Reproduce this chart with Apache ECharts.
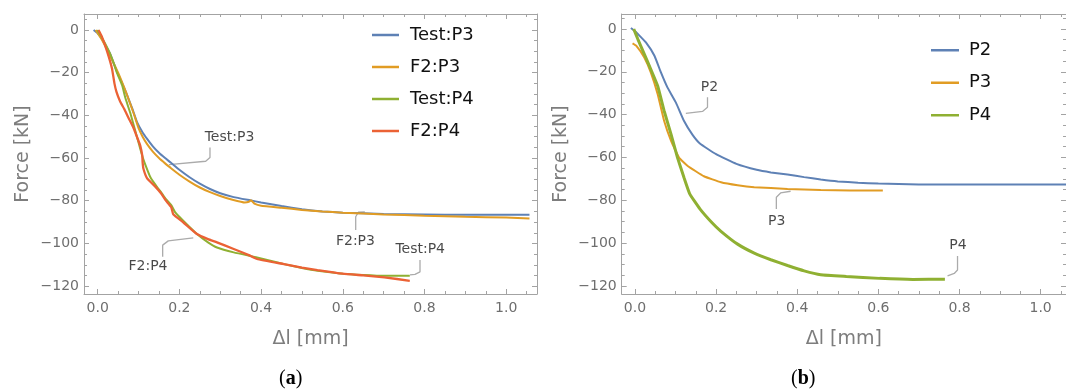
<!DOCTYPE html>
<html>
<head>
<meta charset="utf-8">
<script src="https://cdn.jsdelivr.net/npm/echarts@6/dist/echarts.min.js"></script>
<style>html,body{margin:0;padding:0;background:#fff}#c{width:1066px;height:390px}</style>
</head>
<body>
<div id="c"></div>
<script>
// ---------- data (Δl [mm], Force [kN]) ----------
const leftTestP3 = [[-0.01,0],[0,-1.5],[0.01,-4],[0.02,-7.5],[0.03,-11],[0.047,-19.5],[0.06,-25],[0.072,-30.5],[0.085,-37],[0.096,-43],[0.11,-48],[0.121,-51],[0.135,-54.5],[0.15,-57.5],[0.165,-60],[0.178,-62],[0.2,-65.5],[0.225,-69],[0.25,-72],[0.275,-74.5],[0.3,-76.5],[0.333,-78.3],[0.373,-79.8],[0.4,-80.8],[0.45,-82.5],[0.5,-84],[0.55,-85],[0.6,-85.6],[0.7,-86.2],[0.8,-86.4],[0.9,-86.6],[1.0,-86.6],[1.057,-86.6]];
const leftF2P3 = [[-0.005,0],[0.01,-4.5],[0.03,-12],[0.05,-20],[0.07,-29.5],[0.088,-39],[0.1,-46],[0.11,-50],[0.121,-53.5],[0.135,-57],[0.15,-60],[0.165,-62.5],[0.178,-64.5],[0.2,-67.8],[0.225,-71],[0.25,-73.8],[0.275,-76],[0.3,-77.8],[0.33,-79.5],[0.36,-80.8],[0.37,-80.5],[0.375,-79.8],[0.385,-81.5],[0.4,-82.3],[0.45,-83.3],[0.5,-84.3],[0.55,-85],[0.6,-85.6],[0.7,-86.4],[0.8,-87],[0.9,-87.5],[1.0,-87.9],[1.057,-88.3]];
const leftTestP4 = [[-0.001,0],[0.01,-3.5],[0.02,-7],[0.03,-11],[0.04,-16],[0.047,-20],[0.06,-26],[0.068,-32],[0.08,-39],[0.088,-44.5],[0.096,-50],[0.104,-55.5],[0.11,-59.5],[0.117,-63.3],[0.129,-69],[0.145,-73.5],[0.155,-76],[0.166,-79],[0.18,-82],[0.19,-85.5],[0.21,-89.5],[0.243,-95.6],[0.27,-99.5],[0.292,-101.9],[0.333,-104.2],[0.39,-106.6],[0.42,-108],[0.456,-109.7],[0.5,-111.5],[0.538,-112.8],[0.6,-114.2],[0.65,-114.8],[0.702,-115.2],[0.764,-115.2]];
const leftF2P4 = [[0.002,0],[0.01,-3],[0.023,-10],[0.035,-18],[0.041,-25],[0.046,-29],[0.055,-33.5],[0.065,-37],[0.075,-41],[0.088,-46],[0.1,-52],[0.104,-54],[0.109,-58.6],[0.11,-62],[0.112,-65],[0.121,-69.5],[0.141,-73.4],[0.155,-76.5],[0.166,-79.7],[0.18,-83],[0.185,-86.3],[0.21,-90.2],[0.243,-95.6],[0.27,-98],[0.292,-99.5],[0.333,-102.6],[0.37,-105.5],[0.39,-107.3],[0.456,-109.7],[0.5,-111.3],[0.538,-112.5],[0.6,-114.2],[0.65,-115],[0.702,-115.9],[0.764,-117.5]];

const rightP2 = [[-0.01,0.5],[0,-1],[0.007,-2.3],[0.027,-6.3],[0.048,-12.5],[0.064,-20.3],[0.08,-27.3],[0.101,-34.4],[0.121,-43],[0.142,-49.5],[0.16,-53.5],[0.2,-58.5],[0.25,-63],[0.3,-65.8],[0.335,-67],[0.376,-68],[0.417,-69.2],[0.458,-70.3],[0.5,-71.2],[0.55,-71.8],[0.6,-72.2],[0.7,-72.6],[0.8,-72.7],[0.9,-72.7],[1.0,-72.7],[1.065,-72.7]];
const rightP3 = [[-0.006,-6.7],[0.003,-7.8],[0.023,-13.3],[0.039,-20.3],[0.056,-30.5],[0.072,-43],[0.089,-52.3],[0.109,-60.2],[0.13,-64],[0.17,-68.8],[0.212,-71.6],[0.253,-73],[0.294,-73.9],[0.376,-74.7],[0.458,-75.2],[0.53,-75.4],[0.611,-75.4]];
const rightP4 = [[-0.003,0],[0.007,-4.7],[0.023,-11.7],[0.039,-18.8],[0.056,-26.6],[0.072,-38.3],[0.089,-49.2],[0.105,-60.2],[0.121,-69.5],[0.135,-77],[0.16,-84],[0.19,-90.5],[0.212,-94.5],[0.253,-100.5],[0.294,-104.7],[0.335,-107.8],[0.376,-110.5],[0.417,-113],[0.458,-114.8],[0.521,-115.6],[0.603,-116.5],[0.685,-117],[0.764,-116.9]];

// ticks
const xMajor = [0, 0.2, 0.4, 0.6, 0.8, 1.0];
const xTickLabels = ['0.0', '0.2', '0.4', '0.6', '0.8', '1.0'];
const xMinor = [0.05,0.1,0.15,0.25,0.3,0.35,0.45,0.5,0.55,0.65,0.7,0.75,0.85,0.9,0.95,1.05];
const yMajor = [-120, -100, -80, -60, -40, -20, 0];
const yTickLabels = ['\u2212120', '\u2212100', '\u221280', '\u221260', '\u221240', '\u221220', '0'];
const yMinor = [-115,-110,-105,-95,-90,-85,-75,-70,-65,-55,-50,-45,-35,-30,-25,-15,-10,-5,5];

const leftNames = ['Test:P3', 'F2:P3', 'Test:P4', 'F2:P4'];
const rightNames = ['P2', 'P3', 'P4'];

// callouts: text anchor and leader path in data coordinates
const leftCallouts = [
  {text:'Test:P3', at:[0.3226,-50.2], path:[[0.2749,-55],[0.2749,-59.7],[0.2644,-61.5],[0.1745,-63.1]]},
  {text:'F2:P3', at:[0.631,-98.8], path:[[0.6316,-93.7],[0.6316,-87.5],[0.638,-85.4],[0.654,-85.2]]},
  {text:'Test:P4', at:[0.7895,-102.6], path:[[0.789,-107.8],[0.789,-113.3],[0.7767,-114.5],[0.7645,-114.7]]},
  {text:'F2:P4', at:[0.1231,-110.6], path:[[0.1591,-106.3],[0.1591,-100.8],[0.1728,-98.8],[0.234,-97.4]]}
];
const rightCallouts = [
  {text:'P2', at:[0.1837,-27.1], path:[[0.1788,-31.9],[0.1788,-36.6],[0.1665,-38.5],[0.1254,-39.4]]},
  {text:'P3', at:[0.3492,-89.9], path:[[0.3485,-84.1],[0.3485,-78.6],[0.359,-76.6],[0.3837,-75.8]]},
  {text:'P4', at:[0.796,-101.3], path:[[0.7951,-106.1],[0.7951,-112.6],[0.787,-114.2],[0.7705,-115.3]]}
];

// ---------- styles ----------
const COLORS = {blue:'#5e81b5', orange:'#e19c24', green:'#8fb032', red:'#eb6235'};
const FRAME = '#a3a3a3';
const TICKTXT = '#6e6e6e';
const TITLETXT = '#7d7d7d';
const FONT = 'DejaVu Sans';

function fmt(vals, labels) {
  return function (v) {
    for (let i = 0; i < vals.length; i++) if (Math.abs(vals[i] - v) < 1e-9) return labels[i];
    return '';
  };
}

function axesFor(dim, gi, min, max, major, minor, labels, name, nameGap) {
  const posMain = dim === 'x' ? 'bottom' : 'left';
  const posOpp = dim === 'x' ? 'top' : 'right';
  const base = {gridIndex: gi, type: 'value', min: min, max: max, splitLine: {show: false}, silent: true};
  const mk = (pos, vals, len, showLine, showLabel) => Object.assign({}, base, {
    position: pos,
    axisLine: {show: showLine, onZero: false, lineStyle: {color: FRAME, width: 1}},
    axisTick: {show: true, inside: true, length: len, customValues: vals, lineStyle: {color: FRAME, width: 1}},
    axisLabel: showLabel ? {show: true, customValues: major, formatter: fmt(major, labels), color: TICKTXT,
      fontSize: 14, fontFamily: FONT, margin: dim === 'x' ? 7 : 5} : {show: false}
  });
  const main = mk(posMain, major, 5, true, true);
  main.name = name;
  main.nameLocation = 'middle';
  main.nameGap = nameGap;
  main.nameTextStyle = {fontSize: 19, color: TITLETXT, fontFamily: FONT};
  return [main, mk(posMain, minor, 3, false, false), mk(posOpp, major, 5, true, false), mk(posOpp, minor, 3, false, false)];
}

const xAxis = [].concat(
  axesFor('x', 0, -0.0335, 1.0754, xMajor, xMinor, xTickLabels, '\u0394l [mm]', 36),
  axesFor('x', 1, -0.0327, 1.0625, xMajor, xMinor, xTickLabels, '\u0394l [mm]', 36)
);
const yAxis = [].concat(
  axesFor('y', 0, -123.7, 7.5, yMajor, yMinor, yTickLabels, 'Force [kN]', 51),
  axesFor('y', 1, -123.8, 7.0, yMajor, yMinor, yTickLabels, 'Force [kN]', 51)
);

function lineSeries(name, data, color, width, ax) {
  return {name: name, type: 'line', data: data, xAxisIndex: ax, yAxisIndex: ax, showSymbol: false, symbol: 'none',
    smooth: 0.12, lineStyle: {color: color, width: width}, itemStyle: {color: color}, z: 3, silent: true};
}
function calloutSeries(list, ax) {
  const out = [];
  list.forEach(c => {
    out.push({type: 'line', data: c.path, xAxisIndex: ax, yAxisIndex: ax, showSymbol: false, symbol: 'none',
      lineStyle: {color: '#ababab', width: 1.3}, silent: true, z: 2});
    out.push({type: 'scatter', data: [c.at], xAxisIndex: ax, yAxisIndex: ax, symbolSize: 0, silent: true, z: 4,
      label: {show: true, position: 'inside', formatter: c.text, color: '#1a1a1a', fontSize: 14, fontFamily: FONT}});
  });
  return out;
}

const series = [
  lineSeries(leftNames[0], leftTestP3, COLORS.blue, 2, 0),
  lineSeries(leftNames[1], leftF2P3, COLORS.orange, 2, 0),
  lineSeries(leftNames[2], leftTestP4, COLORS.green, 2, 0),
  lineSeries(leftNames[3], leftF2P4, COLORS.red, 2.3, 0),
  lineSeries(rightNames[0], rightP2, COLORS.blue, 2, 4),
  lineSeries(rightNames[1], rightP3, COLORS.orange, 2, 4),
  lineSeries(rightNames[2], rightP4, COLORS.green, 3, 4)
].concat(calloutSeries(leftCallouts, 0), calloutSeries(rightCallouts, 4));

const legendBase = {orient: 'vertical', icon: 'rect', itemHeight: 2.5, itemGap: 0, selectedMode: false, padding: 0,
  textStyle: {fontSize: 18, color: '#111', fontFamily: FONT, lineHeight: 32}};

const capRich = {p: {fontFamily: 'Liberation Serif', fontSize: 20, fill: '#000'}, b: {fontFamily: 'Liberation Serif', fontSize: 20, fontWeight: 'bold', fill: '#000'}};

const option = {
  animation: false,
  backgroundColor: '#ffffff',
  grid: [
    {left: 84, top: 14, width: 453, height: 280},
    {left: 621.7, top: 14, width: 445.3, height: 280}
  ],
  xAxis: xAxis,
  yAxis: yAxis,
  legend: [
    Object.assign({}, legendBase, {data: leftNames, left: 372, top: 19, itemWidth: 27,
      textStyle: Object.assign({}, legendBase.textStyle, {padding: [0, 0, 0, 6]})}),
    Object.assign({}, legendBase, {data: rightNames, left: 931, top: 34, itemWidth: 28,
      textStyle: Object.assign({}, legendBase.textStyle, {lineHeight: 32.5, padding: [0, 0, 0, 5]})})
  ],
  graphic: [
    {type: 'text', left: 279, top: 369, style: {text: '{p|(}{b|a}{p|)}', rich: capRich}},
    {type: 'text', left: 791, top: 369, style: {text: '{p|(}{b|b}{p|)}', rich: capRich}}
  ],
  series: series
};

const chart = echarts.init(document.getElementById('c'), null, {renderer: 'canvas'});
chart.setOption(option);
</script>
</body>
</html>
